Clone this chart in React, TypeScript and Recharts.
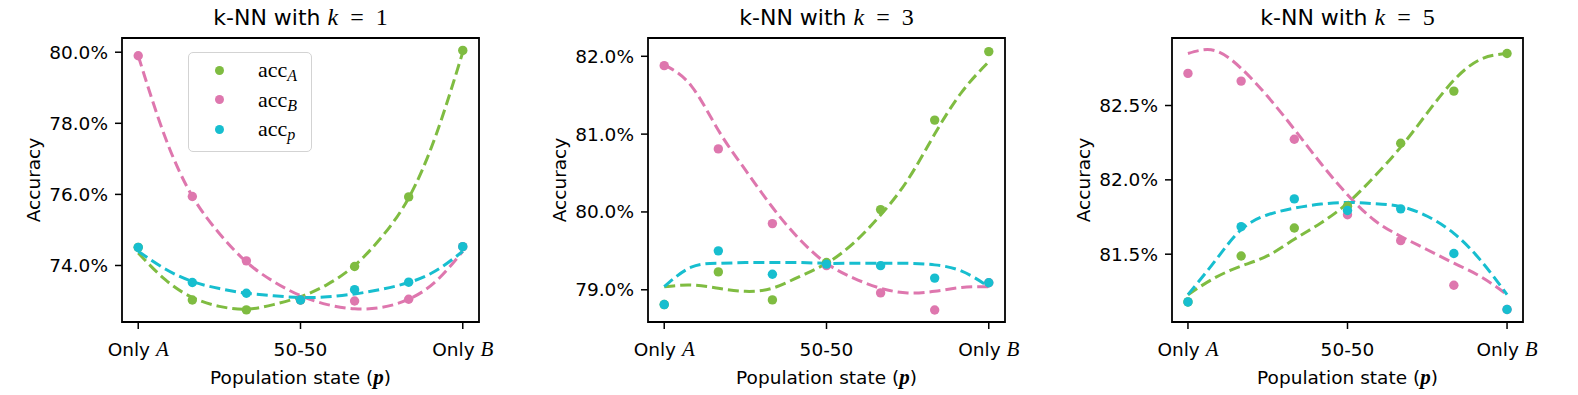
import React from "react";
import { ComposedChart, Scatter, Line, XAxis, YAxis, ReferenceArea, Legend } from "recharts";

const GREEN = "#7fbc41";
const PINK = "#de77ae";
const CYAN = "#17becf";

// population state p, measured points and fitted-curve samples
const xPoints = [0, 0.1667, 0.3333, 0.5, 0.6667, 0.8333, 1];
const xFit = [0, 0.0833, 0.1667, 0.25, 0.3333, 0.4167, 0.5, 0.5833, 0.6667, 0.75, 0.8333, 0.9167, 1];
const xTicks = [0, 0.5, 1];
const xTickText = ["Only ", "50-50", "Only "];
const xTickMath = ["A", "", "B"];

// k = 1
const k1AccA = [74.51, 73.03, 72.75, 73.03, 73.97, 75.93, 80.05];
const k1AccB = [79.9, 75.94, 74.13, 73.03, 73.0, 73.05, 74.53];
const k1AccP = [74.51, 73.52, 73.22, 73.03, 73.32, 73.53, 74.53];
const k1FitA = [74.35, 73.6, 73.1, 72.85, 72.77, 72.9, 73.12, 73.47, 74.0, 74.8, 75.9, 77.65, 80.0];
const k1FitB = [79.9, 77.6, 75.95, 74.9, 74.1, 73.55, 73.15, 72.9, 72.78, 72.82, 73.05, 73.55, 74.4];
const k1FitP = [74.4, 73.9, 73.55, 73.35, 73.22, 73.15, 73.1, 73.12, 73.2, 73.33, 73.52, 73.85, 74.4];
const k1Ticks = [74, 76, 78, 80];

// k = 3
const k3AccA = [78.81, 79.23, 78.87, 79.35, 80.03, 81.18, 82.06];
const k3AccB = [81.88, 80.81, 79.85, 79.31, 78.96, 78.74, 79.09];
const k3AccP = [78.81, 79.5, 79.2, 79.33, 79.31, 79.15, 79.09];
const k3FitA = [79.04, 79.06, 79.02, 78.98, 79.02, 79.17, 79.34, 79.6, 79.96, 80.41, 81.0, 81.54, 81.93];
const k3FitB = [81.89, 81.62, 81.05, 80.54, 80.06, 79.65, 79.34, 79.15, 79.02, 78.96, 78.98, 79.03, 79.04];
const k3FitP = [79.04, 79.29, 79.34, 79.35, 79.35, 79.35, 79.34, 79.34, 79.34, 79.34, 79.32, 79.24, 79.04];
const k3Ticks = [79, 80, 81, 82];

// k = 5
const k5AccA = [81.179, 81.488, 81.676, 81.823, 82.246, 82.597, 82.85];
const k5AccB = [82.716, 82.664, 82.273, 81.765, 81.591, 81.291, 81.128];
const k5AccP = [81.179, 81.685, 81.872, 81.794, 81.805, 81.505, 81.128];
const k5FitA = [81.228, 81.34, 81.42, 81.49, 81.6, 81.71, 81.843, 82.02, 82.22, 82.45, 82.67, 82.81, 82.85];
const k5FitB = [82.85, 82.87, 82.75, 82.56, 82.34, 82.11, 81.9, 81.73, 81.62, 81.53, 81.44, 81.35, 81.228];
const k5FitP = [81.228, 81.45, 81.665, 81.765, 81.81, 81.837, 81.848, 81.84, 81.82, 81.755, 81.64, 81.46, 81.228];
const k5Ticks = [81.5, 82, 82.5];

const SANS = "DejaVu Sans";
const SERIF = "Liberation Serif";
const HEIGHT = 395;
const YW = 122;

const toRows = (xs: number[], ys: number[]) => xs.map((x, i) => ({ x, y: ys[i] }));

const panels = [
  { k: 1, left: 0, plotW: 357, domain: [72.41, 80.4], ticks: k1Ticks, acc: [k1AccA, k1AccB, k1AccP], fit: [k1FitA, k1FitB, k1FitP], legend: true },
  { k: 3, left: 526, plotW: 357, domain: [78.586, 82.235], ticks: k3Ticks, acc: [k3AccA, k3AccB, k3AccP], fit: [k3FitA, k3FitB, k3FitP], legend: false },
  { k: 5, left: 1050, plotW: 351, domain: [81.044, 82.954], ticks: k5Ticks, acc: [k5AccA, k5AccB, k5AccP], fit: [k5FitA, k5FitB, k5FitP], legend: false },
];
const colors = [GREEN, PINK, CYAN];
const subs = ["A", "B", "p"];

const dot = (color: string) => (props: any) =>
  <circle cx={props.cx} cy={props.cy} r={4.7} fill={color} />;

function XTick({ x, y, payload }: any) {
  const i = xTicks.indexOf(payload.value);
  return (
    <text x={x} y={y + 24} textAnchor="middle" fontFamily={SANS} fontSize={18.5} fill="#000">
      {xTickText[i]}
      {xTickMath[i] && <tspan fontFamily={SERIF} fontStyle="italic" fontSize={21}>{xTickMath[i]}</tspan>}
    </text>
  );
}

function YTick({ x, y, payload }: any) {
  return (
    <text x={x} y={y + 6.5} textAnchor="end" fontFamily={SANS} fontSize={18.5} fill="#000">
      {payload.value.toFixed(1)}%
    </text>
  );
}

function XLabel({ viewBox }: any) {
  const cx = viewBox.x + viewBox.width / 2;
  return (
    <text x={cx} y={384} textAnchor="middle" fontFamily={SANS} fontSize={18.5} fill="#000">
      Population state (
      <tspan fontFamily={SERIF} fontStyle="italic" fontWeight="bold" fontSize={21}>p</tspan>)
    </text>
  );
}

function YLabel() {
  return (
    <text x={33} y={180} transform="rotate(-90 33 180)" textAnchor="middle" dominantBaseline="central"
      fontFamily={SANS} fontSize={18.5} fill="#000">
      Accuracy
    </text>
  );
}

function LegendBox() {
  return (
    <div style={{ position: "relative", width: 124, height: 100, boxSizing: "border-box", border: "1.8px solid #d3d3d3", borderRadius: 5, background: "rgba(255,255,255,0.85)" }}>
      {colors.map((c, i) => (
        <div key={i} style={{ position: "absolute", left: 0, top: 17 + i * 29.5 - 12, height: 24, width: 124 }}>
          <div style={{ position: "absolute", left: 26, top: 7.5, width: 9, height: 9, borderRadius: "50%", background: c }} />
          <div style={{ position: "absolute", left: 69, top: 0, lineHeight: "24px", fontFamily: SERIF, fontSize: 22, color: "#000", whiteSpace: "nowrap" }}>
            acc<span style={{ fontStyle: "italic", fontSize: 16, position: "relative", top: 4 }}>{subs[i]}</span>
          </div>
        </div>
      ))}
    </div>
  );
}

function Panel({ p }: { p: (typeof panels)[number] }) {
  const width = YW + p.plotW + 20;
  return (
    <div style={{ position: "absolute", left: p.left, top: 0 }}>
      <div style={{ position: "absolute", left: YW, width: p.plotW, top: 0, textAlign: "center", fontFamily: SANS, fontSize: 22, lineHeight: "34px", whiteSpace: "nowrap" }}>
        k-NN with <span style={{ fontFamily: SERIF, fontStyle: "italic", fontSize: 24 }}>k</span>
        <span style={{ fontFamily: SERIF, fontSize: 24 }}>{"\u2002=\u2002"}{p.k}</span>
      </div>
      <ComposedChart width={width} height={HEIGHT} margin={{ top: 38, right: 20, bottom: 0, left: 0 }}>
        <XAxis dataKey="x" type="number" domain={[-0.05, 1.05]} ticks={xTicks} allowDataOverflow
          height={73} tickSize={7} tickMargin={3} axisLine={false} tickLine={{ stroke: "#000", strokeWidth: 1.5 }}
          tick={<XTick />} label={<XLabel />} interval={0} />
        <YAxis dataKey="y" type="number" domain={p.domain} ticks={p.ticks} allowDataOverflow
          width={YW} tickSize={7} tickMargin={7} axisLine={false} tickLine={{ stroke: "#000", strokeWidth: 1.5 }}
          tick={<YTick />} label={<YLabel />} interval={0} />
        {p.acc.map((arr, i) => (
          <Scatter key={"s" + i} data={toRows(xPoints, arr)} dataKey="y" fill={colors[i]}
            shape={dot(colors[i])} isAnimationActive={false} />
        ))}
        {p.fit.map((arr, i) => (
          <Line key={"l" + i} data={toRows(xFit, arr)} dataKey="y" type="natural" stroke={colors[i]}
            strokeWidth={3} strokeDasharray="11 5" dot={false} activeDot={false} isAnimationActive={false} />
        ))}
        <ReferenceArea x1={-0.05} x2={1.05} y1={p.domain[0]} y2={p.domain[1]} fill="none" fillOpacity={0}
          stroke="#000" strokeWidth={1.8} ifOverflow="visible" />
        {p.legend && (
          <Legend layout="horizontal" verticalAlign="middle" align="center"
            wrapperStyle={{ left: 188, top: 52, width: 124, height: 100 }} content={<LegendBox />} />
        )}
      </ComposedChart>
    </div>
  );
}

export default function App() {
  return (
    <div style={{ position: "relative", width: 1578, height: HEIGHT, background: "#fff" }}>
      <style>{"body{margin:0}"}</style>
      {panels.map((p) => <Panel key={p.k} p={p} />)}
    </div>
  );
}
